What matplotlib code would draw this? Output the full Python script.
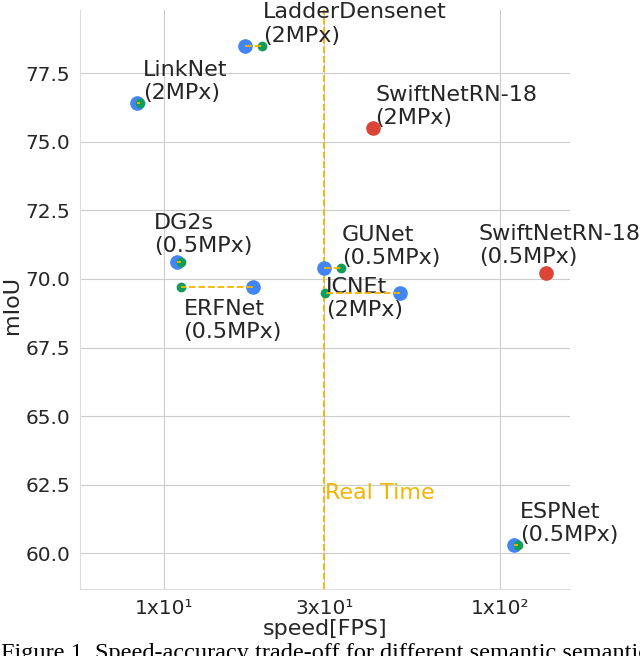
import numpy as np
import matplotlib
matplotlib.use('Agg')
import matplotlib.pyplot as plt
import seaborn as sns

sns.set_style('whitegrid')
plt.rcParams['font.family'] = ['DejaVu Sans']

# methods drawn as a pair of points (blue / green) joined by a dashed line
pair_labels = ['LadderDensenet\n(2MPx)', 'LinkNet\n(2MPx)', 'DG2s\n(0.5MPx)',
               'GUNet\n(0.5MPx)', 'ERFNet\n(0.5MPx)', 'ICNEt\n(2MPx)', 'ESPNet\n(0.5MPx)']
blue_fps = [17.4, 8.3, 10.9, 29.9, 18.4, 50.4, 110]
green_fps = [19.6, 8.5, 11.2, 33.6, 11.2, 30.2, 113]
pair_miou = [78.5, 76.4, 70.6, 70.4, 69.7, 69.5, 60.3]

# SwiftNet results (red)
swift_labels = ['SwiftNetRN-18\n(2MPx)', 'SwiftNetRN-18\n(0.5MPx)']
swift_fps = [41.9, 137]
swift_miou = [75.5, 70.2]

realtime_fps = 30
xticks = [10, 30, 100]
xtick_labels = ['1x10\u00b9', '3x10\u00b9', '1x10\u00b2']
yticks = [60.0, 62.5, 65.0, 67.5, 70.0, 72.5, 75.0, 77.5]

BLUE = '#4285F4'
GREEN = '#0F9D58'
RED = '#DB4437'
ORANGE = '#F4B400'
TXT = '#262626'
FS = 16

fig = plt.figure(figsize=(6.4, 6.56), dpi=100)
ax = fig.add_axes([0.125, 0.1021, 0.7656, 0.8827])

for bx, gx, y in zip(blue_fps, green_fps, pair_miou):
    ax.plot([bx], [y], 'o', color=BLUE, ms=9.5, zorder=3)
    ax.plot([gx], [y], 'o', color=GREEN, ms=6, zorder=3)
    ax.plot([bx, gx], [y, y], '--', color=ORANGE, lw=1.3, zorder=4)

ax.plot(swift_fps, swift_miou, 'o', color=RED, ms=9.5, zorder=3, ls='none')

ax.axvline(realtime_fps, color=ORANGE, ls='--', lw=1.3, zorder=2)
ax.annotate('Real Time', (realtime_fps, 62.2), xytext=(1, 0), textcoords='offset pixels',
            color=ORANGE, fontsize=FS, va='center', ha='left')

# label offsets in pixels: (dx, dy, va)
pair_offsets = [(1, 0, 'bottom'), (3, 0, 'bottom'), (-23, 6, 'bottom'),
                (1, 0, 'bottom'), (3, -12, 'top'), (1, 16, 'top'), (2, 0, 'bottom')]
for i, (lab, (dx, dy, va)) in enumerate(zip(pair_labels, pair_offsets)):
    anchor = blue_fps[i] if i == 2 else green_fps[i]
    ax.annotate(lab, (anchor, pair_miou[i]), xytext=(dx, dy), textcoords='offset pixels',
                fontsize=FS, color=TXT, va=va, ha='left', annotation_clip=False)

swift_offsets = [(2, 0), (-67, 6)]
for lab, x, y, (dx, dy) in zip(swift_labels, swift_fps, swift_miou, swift_offsets):
    ax.annotate(lab, (x, y), xytext=(dx, dy), textcoords='offset pixels',
                fontsize=FS, color=TXT, va='bottom', ha='left', annotation_clip=False)

ax.set_xscale('log')
ax.set_xlim(5.62, 161.5)
ax.set_ylim(58.7, 79.8)
ax.set_xticks(xticks)
ax.set_xticklabels(xtick_labels)
ax.xaxis.set_minor_locator(matplotlib.ticker.NullLocator())
ax.set_yticks(yticks)
ax.tick_params(labelsize=14.5, colors=TXT)
ax.set_xlabel('speed[FPS]', fontsize=FS, color=TXT, labelpad=1)
ax.set_ylabel('mIoU', fontsize=FS, color=TXT)
ax.yaxis.set_label_coords(-0.118, 0.49)
sns.despine(ax=ax)
for s in ['left', 'bottom']:
    ax.spines[s].set_color('#dddddd')

fig.text(0.002, 0.0198, 'Figure 1. Speed-accuracy trade-off for different semantic semantic',
         family='Liberation Serif', fontsize=17.5, va='top', ha='left', color='black')

fig.savefig('out.png', dpi=100)
